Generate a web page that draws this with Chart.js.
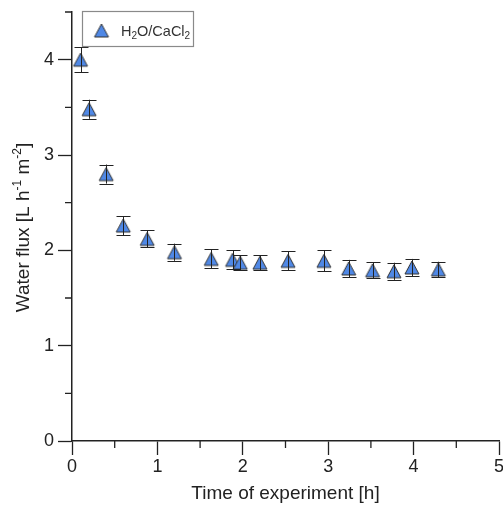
<!DOCTYPE html>
<html><head><meta charset="utf-8">
<script src="https://cdn.jsdelivr.net/npm/chart.js@4.4.1/dist/chart.umd.min.js"></script>
<style>html,body{margin:0;padding:0;background:#fff}canvas{display:block}</style>
</head><body>
<canvas id="c" width="503" height="507"></canvas>
<script>
// ---- data ----
const times   = [0.1, 0.2, 0.4, 0.6, 0.88, 1.2, 1.63, 1.88, 1.97, 2.2, 2.53, 2.95, 3.24, 3.52, 3.77, 3.98, 4.29];
const flux    = [4.0, 3.48, 2.8, 2.26, 2.12, 1.98, 1.91, 1.90, 1.87, 1.87, 1.89, 1.89, 1.81, 1.79, 1.78, 1.82, 1.80];
const fluxErr = [0.13, 0.1, 0.1, 0.1, 0.09, 0.09, 0.1, 0.1, 0.08, 0.08, 0.1, 0.11, 0.09, 0.085, 0.09, 0.09, 0.08];
const seriesName = ['H', '2', 'O/CaCl', '2'];   // H2O/CaCl2 (subscripts at index 1 and 3)
const xTitle = 'Time of experiment [h]';
const yTitleParts = [['Water flux [L h', false], ['-1', true], [' m', false], ['-2', true], [']', false]];
const xRange = [0, 5];
const yRange = [0, 4.5];

const FONT = "'Liberation Sans', Arial, sans-serif";
const INK = '#222';
const FILL = '#4F88E6';

// triangle marker (bounding-box centred)
function makeTri() {
  const c = document.createElement('canvas');
  c.width = 18; c.height = 17;
  const g = c.getContext('2d');
  g.beginPath();
  g.moveTo(9, 2); g.lineTo(16, 15); g.lineTo(2, 15); g.closePath();
  g.fillStyle = FILL; g.fill();
  g.lineWidth = 1; g.strokeStyle = '#333'; g.stroke();
  return c;
}
const tri = makeTri();

const data = times.map((t, i) => ({x: t, y: flux[i]}));

const extras = {
  id: 'extras',
  afterDatasetsDraw(chart) {
    const ctx = chart.ctx, xs = chart.scales.x, ys = chart.scales.y;
    ctx.save();
    ctx.strokeStyle = INK; ctx.lineWidth = 1;
    times.forEach((t, i) => {
      const px = Math.round(xs.getPixelForValue(t)) + 0.5;
      const top = ys.getPixelForValue(flux[i] + fluxErr[i]);
      const bot = ys.getPixelForValue(flux[i] - fluxErr[i]);
      ctx.beginPath();
      ctx.moveTo(px, top); ctx.lineTo(px, bot);
      ctx.moveTo(px - 7, Math.round(top) + 0.5); ctx.lineTo(px + 7, Math.round(top) + 0.5);
      ctx.moveTo(px - 7, Math.round(bot) + 0.5); ctx.lineTo(px + 7, Math.round(bot) + 0.5);
      ctx.stroke();
    });
    ctx.restore();
  },
  afterDraw(chart) {
    const ctx = chart.ctx, xs = chart.scales.x, ys = chart.scales.y;
    const ca = chart.chartArea;
    ctx.save();
    // minor ticks
    ctx.strokeStyle = INK; ctx.lineWidth = 1.3;
    ctx.beginPath();
    for (let v = 0.5; v < xRange[1]; v += 1) {
      const px = xs.getPixelForValue(v);
      ctx.moveTo(px, ca.bottom); ctx.lineTo(px, ca.bottom + 7);
    }
    for (let v = 0.5; v <= yRange[1]; v += 1) {
      const py = ys.getPixelForValue(v);
      ctx.moveTo(ca.left, py); ctx.lineTo(ca.left - 7, py);
    }
    ctx.stroke();

    // y title with superscripts
    ctx.save();
    ctx.translate(22, (ca.top + ca.bottom) / 2 + 1);
    ctx.rotate(-Math.PI / 2);
    ctx.fillStyle = INK;
    ctx.textBaseline = 'alphabetic';
    const big = '19px ' + FONT, small = '12px ' + FONT;
    let total = 0;
    yTitleParts.forEach(([s, sup]) => { ctx.font = sup ? small : big; total += ctx.measureText(s).width; });
    let x = -total / 2;
    yTitleParts.forEach(([s, sup]) => {
      ctx.font = sup ? small : big;
      ctx.fillText(s, x, sup ? -1 : 7);
      x += ctx.measureText(s).width;
    });
    ctx.restore();

    // legend box
    ctx.fillStyle = '#fff';
    ctx.fillRect(82.5, 11.5, 111, 35);
    ctx.strokeStyle = '#8a8a8a'; ctx.lineWidth = 1.2;
    ctx.strokeRect(82.5, 11.5, 111, 35);
    ctx.drawImage(tri, 101.5 - 9, 30 - 8);
    ctx.fillStyle = '#333';
    let lx = 121;
    seriesName.forEach((s, i) => {
      const sub = (i % 2 === 1);
      ctx.font = (sub ? '10px ' : '14.5px ') + FONT;
      ctx.fillText(s, lx, sub ? 39 : 35.5);
      lx += ctx.measureText(s).width;
    });
    ctx.restore();
  }
};

const isMajor = v => Math.abs(v - Math.round(v)) < 1e-6;
const zeroPad = () => ({left: 0, top: 0, right: 0, bottom: 0});

new Chart(document.getElementById('c'), {
  type: 'scatter',
  data: {
    datasets: [{
      label: 'H2O/CaCl2',
      data: data,
      pointStyle: tri,
      pointRadius: 8,
      pointHoverRadius: 8,
      showLine: false,
      clip: false
    }]
  },
  options: {
    responsive: false,
    animation: false,
    devicePixelRatio: 1,
    layout: {autoPadding: false, padding: {top: 12, right: 4, left: 0, bottom: 0}},
    plugins: {legend: {display: false}, tooltip: {enabled: false}},
    scales: {
      x: {
        type: 'linear', min: xRange[0], max: xRange[1],
        afterFit(s) { s.height = 66; s.paddingLeft = 0; s.paddingRight = 0; s.getPadding = zeroPad; },
        ticks: {
          stepSize: 0.5, autoSkip: false, maxRotation: 0, padding: 1,
          color: INK, font: {family: FONT, size: 18},
          callback: v => isMajor(v) ? String(Math.round(v)) : ''
        },
        grid: {
          drawOnChartArea: false, drawTicks: true, tickLength: 14, tickWidth: 1.3,
          tickColor: c => isMajor(c.tick.value) ? INK : 'rgba(0,0,0,0)'
        },
        border: {display: true, color: INK, width: 1.5},
        title: {display: true, text: xTitle, color: INK, font: {family: FONT, size: 19}, padding: {top: 0, bottom: 2}}
      },
      y: {
        type: 'linear', min: yRange[0], max: yRange[1],
        afterFit(s) { s.width = 72; s.paddingTop = 0; s.paddingBottom = 0; s.getPadding = zeroPad; },
        ticks: {
          stepSize: 0.5, autoSkip: false, padding: 4,
          color: INK, font: {family: FONT, size: 18},
          callback: v => isMajor(v) ? String(Math.round(v)) : ''
        },
        grid: {
          drawOnChartArea: false, drawTicks: true, tickLength: 14, tickWidth: 1.3,
          tickColor: c => isMajor(c.tick.value) ? INK : 'rgba(0,0,0,0)'
        },
        border: {display: true, color: INK, width: 1.5}
      }
    }
  },
  plugins: [extras]
});
</script>
</body></html>
